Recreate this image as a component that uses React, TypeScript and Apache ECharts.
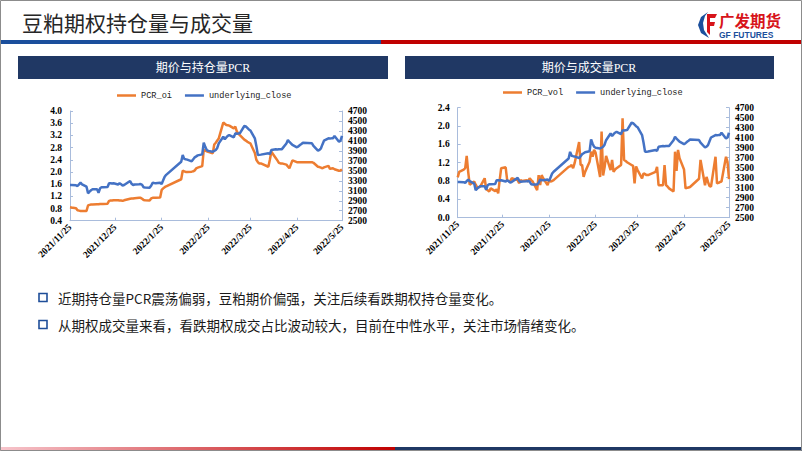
import React, { useEffect, useRef } from 'react';
import * as echarts from 'echarts';

const dates = [
  '2021-11-25','2021-11-26','2021-11-29','2021-11-30',
  '2021-12-01','2021-12-02','2021-12-03','2021-12-06','2021-12-07','2021-12-08','2021-12-09','2021-12-10','2021-12-13','2021-12-14','2021-12-15','2021-12-16','2021-12-17','2021-12-20','2021-12-21','2021-12-22','2021-12-23','2021-12-24','2021-12-27','2021-12-28','2021-12-29','2021-12-30','2021-12-31',
  '2022-01-04','2022-01-05','2022-01-06','2022-01-07','2022-01-10','2022-01-11','2022-01-12','2022-01-13','2022-01-14','2022-01-17','2022-01-18','2022-01-19','2022-01-20','2022-01-21','2022-01-24','2022-01-25','2022-01-26','2022-01-27','2022-01-28',
  '2022-02-07','2022-02-08','2022-02-09','2022-02-10','2022-02-11','2022-02-14','2022-02-15','2022-02-16','2022-02-17','2022-02-18','2022-02-21','2022-02-22','2022-02-23','2022-02-24','2022-02-25','2022-02-28',
  '2022-03-01','2022-03-02','2022-03-03','2022-03-04','2022-03-07','2022-03-08','2022-03-09','2022-03-10','2022-03-11','2022-03-14','2022-03-15','2022-03-16','2022-03-17','2022-03-18','2022-03-21','2022-03-22','2022-03-23','2022-03-24','2022-03-25','2022-03-28','2022-03-29','2022-03-30','2022-03-31',
  '2022-04-01','2022-04-06','2022-04-07','2022-04-08','2022-04-11','2022-04-12','2022-04-13','2022-04-14','2022-04-15','2022-04-18','2022-04-19','2022-04-20','2022-04-21','2022-04-22','2022-04-25','2022-04-26','2022-04-27','2022-04-28','2022-04-29',
  '2022-05-05','2022-05-06','2022-05-09','2022-05-10','2022-05-11','2022-05-12','2022-05-13','2022-05-16','2022-05-17','2022-05-18','2022-05-19','2022-05-20','2022-05-23','2022-05-24','2022-05-25',
];

const underlyingClose = [
  3216, 3216, 3210, 3196,
  3230, 3262, 3230, 3182, 3049, 3082, 3110, 3130, 3130, 3061, 3150, 3170, 3170, 3175, 3250, 3250, 3245, 3250, 3225, 3250, 3230, 3205, 3215,
  3296, 3240, 3216, 3225, 3230, 3236, 3220, 3170, 3165, 3163, 3200, 3262, 3255, 3250, 3262, 3236, 3310, 3382, 3420,
  3683, 3817, 3740, 3731, 3725, 3690, 3730, 3771, 3790, 3810, 3830, 4064, 3980, 3918, 3900, 3884,
  3900, 3918, 3960, 4050, 4185, 4132, 4170, 4200, 4218, 4172, 4252, 4245, 4250, 4252, 4399, 4390, 4360, 4330, 4310, 4152, 4000, 3817, 3820,
  3825, 3852, 3835, 3918, 3932, 3930, 3935, 3932, 3935, 4050, 4118, 4080, 4052, 4020, 3972, 3990, 4018, 4040, 4064,
  4052, 4000, 3904, 3920, 3952, 4030, 4104, 4152, 4150, 4152, 4155, 4199, 4085, 4104, 4199,
];

const pcrOi = [
  0.84, 0.83, 0.81, 0.74,
  0.73, 0.72, 0.72, 0.72, 0.90, 0.92, 0.93, 0.93, 0.94, 0.94, 0.95, 0.95, 0.95, 0.96, 1.05, 1.06, 1.06, 1.07, 1.07, 1.06, 1.06, 1.05, 1.07,
  1.12, 1.13, 1.13, 1.14, 1.15, 1.15, 1.12, 1.08, 1.07, 1.06, 1.13, 1.15, 1.15, 1.15, 1.16, 1.41, 1.46, 1.50, 1.53,
  1.76, 2.04, 2.02, 2.00, 2.00, 2.01, 2.02, 2.05, 2.12, 2.14, 2.19, 2.72, 2.70, 2.68, 2.66, 2.61,
  2.90, 2.96, 3.03, 3.10, 3.62, 3.58, 3.54, 3.53, 3.52, 3.43, 3.49, 3.33, 3.26, 3.21, 3.06, 3.03, 2.99, 2.96, 2.94, 2.62, 2.40, 2.32, 2.28,
  2.28, 2.17, 2.40, 2.66, 2.45, 2.38, 2.30, 2.28, 2.28, 2.24, 2.18, 2.12, 2.25, 2.38, 2.32, 2.32, 2.32, 2.32, 2.32,
  2.32, 2.30, 2.17, 2.16, 2.14, 2.12, 2.15, 2.20, 2.10, 2.11, 2.12, 2.09, 2.04, 2.05, 2.08,
];

const pcrVol = [
  0.88, 1.00, 1.05, 1.08,
  1.35, 1.00, 0.72, 0.79, 0.72, 0.66, 0.66, 0.68, 0.86, 0.62, 0.60, 0.57, 0.64, 0.58, 0.62, 0.53, 0.82, 1.08, 1.10, 0.82, 0.80, 0.79, 0.86,
  0.82, 0.75, 0.82, 0.80, 0.82, 0.79, 0.86, 0.82, 0.79, 0.60, 0.93, 0.71, 0.93, 0.86, 0.71, 0.82, 0.79, 0.80, 0.82,
  1.11, 1.12, 1.15, 1.08, 1.19, 1.65, 1.15, 1.15, 0.89, 1.00, 1.22, 1.44, 1.33, 1.48, 1.42, 0.89,
  1.88, 0.92, 1.10, 1.35, 1.04, 1.26, 1.00, 1.05, 1.08, 1.15, 2.17, 1.26, 1.24, 1.21, 1.15, 1.13, 0.75, 1.12, 1.04, 0.86, 0.97, 0.95, 0.93,
  0.93, 1.00, 1.11, 0.71, 0.71, 1.15, 0.71, 0.68, 0.64, 0.57, 1.44, 1.02, 1.48, 1.30, 1.05, 0.64, 0.65, 0.66, 0.67,
  0.85, 1.26, 0.71, 0.89, 0.78, 0.69, 0.68, 1.33, 0.75, 0.76, 0.78, 0.79, 1.33, 1.22, 0.84,
];

const monthTicks = ['2021-11-25', '2021-12-25', '2022-01-25', '2022-02-25', '2022-03-25', '2022-04-25', '2022-05-25'];

const pageTitle = '豆粕期权持仓量与成交量';
const chartTitles = ['期价与持仓量PCR', '期价与成交量PCR'];
const bullets = [
  '近期持仓量PCR震荡偏弱，豆粕期价偏强，关注后续看跌期权持仓量变化。',
  '从期权成交量来看，看跌期权成交占比波动较大，目前在中性水平，关注市场情绪变化。',
];

const ORANGE = '#ED7D31';
const BLUE = '#4472C4';
const AXIS = '#A9BCDC';
const NAVY = '#203864';

function toTs(s: string) {
  const [y, m, d] = s.split('-').map(Number);
  return new Date(y, m - 1, d).getTime();
}

const labelFont = { fontFamily: 'Liberation Serif', fontWeight: 'bold' as const, fontSize: 9.5, color: '#000' };

function xAxis(gridIndex: number) {
  const ticks = monthTicks.map(toTs);
  return {
    type: 'value',
    gridIndex,
    min: toTs(monthTicks[0]),
    max: toTs(monthTicks[monthTicks.length - 1]),
    axisLine: { show: true, lineStyle: { color: AXIS, width: 1 } },
    axisTick: { show: true, inside: true, length: 3, lineStyle: { color: AXIS }, customValues: ticks },
    axisLabel: {
      ...labelFont,
      rotate: 45,
      margin: 5,
      customValues: ticks,
      hideOverlap: false,
      formatter: (v: number) => {
        const d = new Date(v);
        return `${d.getFullYear()}/${d.getMonth() + 1}/${d.getDate()}`;
      },
    },
    splitLine: { show: false },
  };
}

function yAxis(gridIndex: number, min: number, max: number, interval: number, right: boolean, dec: number) {
  return {
    type: 'value',
    gridIndex,
    position: right ? 'right' : 'left',
    min,
    max,
    interval,
    axisLine: { show: true, lineStyle: { color: AXIS, width: 1 } },
    axisTick: { show: true, inside: true, length: 3, lineStyle: { color: AXIS } },
    axisLabel: { ...labelFont, margin: right ? 6 : 8, formatter: (v: number) => v.toFixed(dec) },
    splitLine: { show: false },
  };
}

function lineSeries(name: string, values: number[], color: string, xi: number, yi: number) {
  return {
    type: 'line',
    name,
    xAxisIndex: xi,
    yAxisIndex: yi,
    data: dates.map((d, i) => [toTs(d), values[i]]),
    showSymbol: false,
    symbol: 'none',
    lineStyle: { color, width: 2.5 },
    itemStyle: { color },
    z: color === ORANGE ? 2 : 3,
  };
}

export default function App() {
  const ref = useRef<HTMLDivElement>(null);
  useEffect(() => {
    if (!ref.current) return;
    const chart = echarts.init(ref.current, undefined, { renderer: 'svg' });
    const legendText = { fontFamily: 'Liberation Mono', fontSize: 8.6, color: '#222' };
    const legendBase = { icon: 'rect', itemWidth: 19, itemHeight: 2.5, itemGap: 13, padding: 0, textStyle: legendText, selectedMode: false };
    chart.setOption({
      animation: false,
      backgroundColor: '#fff',
      grid: [
        { left: 70, top: 111, width: 272, height: 109.7 },
        { left: 457.7, top: 107.7, width: 271.3, height: 110 },
      ],
      legend: [
        { ...legendBase, data: ['PCR_oi', 'underlying_close'], left: 117, top: 91 },
        { ...legendBase, data: ['PCR_vol', 'underlying_close'], left: 503, top: 88 },
      ],
      xAxis: [xAxis(0), xAxis(1)],
      yAxis: [
        yAxis(0, 0.4, 4.0, 0.4, false, 1),
        yAxis(0, 2500, 4700, 200, true, 0),
        yAxis(1, 0, 2.4, 0.4, false, 1),
        yAxis(1, 2500, 4700, 200, true, 0),
      ],
      series: [
        lineSeries('PCR_oi', pcrOi, ORANGE, 0, 0),
        lineSeries('underlying_close', underlyingClose, BLUE, 0, 1),
        lineSeries('PCR_vol', pcrVol, ORANGE, 1, 2),
        lineSeries('underlying_close', underlyingClose, BLUE, 1, 3),
      ],
      graphic: [
        { type: 'rect', shape: { x: 0.5, y: 0.5, width: 801, height: 450 }, style: { fill: 'none', stroke: '#8c8c8c', lineWidth: 1 }, z: 100 },
        { type: 'text', x: 22, y: 22, style: { text: pageTitle, font: '21px "Noto Sans CJK SC"', fill: '#262626', textVerticalAlign: 'middle' } },
        { type: 'rect', shape: { x: 0, y: 40, width: 381, height: 4 }, style: { fill: '#1B4F9C' } },
        { type: 'rect', shape: { x: 381, y: 40, width: 421, height: 4 }, style: { fill: '#C00000' } },
        {
          type: 'rect', shape: { x: 0, y: 447, width: 395, height: 4 },
          style: { fill: new echarts.graphic.LinearGradient(0, 0, 1, 0, [{ offset: 0, color: '#F7C5CC' }, { offset: 1, color: '#C00000' }]) },
        },
        { type: 'rect', shape: { x: 395, y: 447, width: 407, height: 4 }, style: { fill: '#1F3864' } },
        { type: 'polygon', shape: { points: [[708, 12], [701, 17], [698, 25], [701, 33], [709, 38], [704, 30], [703, 23], [705, 16]] }, style: { fill: '#1B4F9C' } },
        { type: 'polygon', shape: { points: [[707, 14], [717, 14], [715, 18], [710, 18], [710, 22], [715, 22], [714, 26], [710, 26], [710, 35], [707, 32]] }, style: { fill: '#D7141A' } },
        { type: 'text', x: 719, y: 20, style: { text: '广发期货', font: 'bold 15.5px "Noto Sans CJK SC"', fill: '#D7141A', textVerticalAlign: 'middle' } },
        { type: 'text', x: 719, y: 34.5, style: { text: 'GF FUTURES', font: 'bold 8.5px "Liberation Sans"', fill: '#1B4F9C', textVerticalAlign: 'middle' } },
        { type: 'rect', shape: { x: 18, y: 56, width: 370, height: 23 }, style: { fill: NAVY } },
        { type: 'text', x: 203, y: 68, style: { text: chartTitles[0], font: '12px "Liberation Serif", "Noto Sans CJK SC"', fill: '#fff', textAlign: 'center', textVerticalAlign: 'middle' } },
        { type: 'rect', shape: { x: 405, y: 56, width: 369, height: 23 }, style: { fill: NAVY } },
        { type: 'text', x: 589, y: 68, style: { text: chartTitles[1], font: '12px "Liberation Serif", "Noto Sans CJK SC"', fill: '#fff', textAlign: 'center', textVerticalAlign: 'middle' } },
        { type: 'rect', shape: { x: 39, y: 293.5, width: 8, height: 8 }, style: { fill: 'none', stroke: '#1F4E99', lineWidth: 1.6 } },
        { type: 'text', x: 58, y: 298, style: { text: bullets[0], font: '13.5px "Noto Sans CJK SC"', fill: '#1a1a1a', textVerticalAlign: 'middle' } },
        { type: 'rect', shape: { x: 39, y: 320.5, width: 8, height: 8 }, style: { fill: 'none', stroke: '#1F4E99', lineWidth: 1.6 } },
        { type: 'text', x: 58, y: 325, style: { text: bullets[1], font: '13.5px "Noto Sans CJK SC"', fill: '#1a1a1a', textVerticalAlign: 'middle' } },
      ],
    });
    return () => chart.dispose();
  }, []);
  return <div ref={ref} style={{ position: 'fixed', left: 0, top: 0, width: 802, height: 451, background: '#fff' }} />;
}
